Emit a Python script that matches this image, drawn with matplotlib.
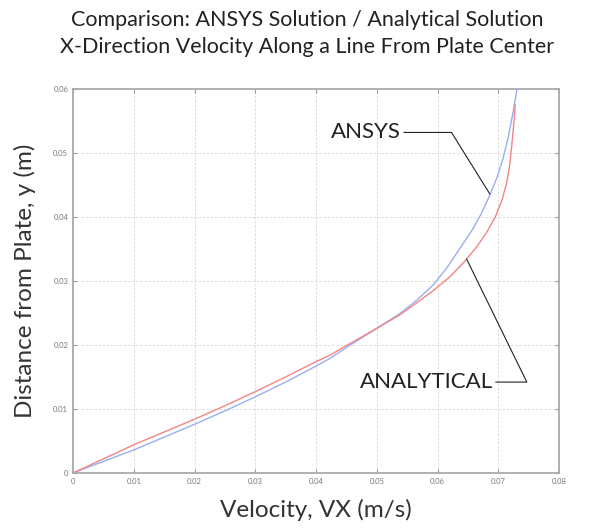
import numpy as np
import matplotlib
matplotlib.use('Agg')
import matplotlib.pyplot as plt

plt.rcParams['font.family'] = ['Lato', 'DejaVu Sans']

# ANSYS solution (blue)
ansys_vx = [0.0, 0.005, 0.010, 0.015, 0.020, 0.025, 0.030, 0.035, 0.040, 0.0423, 0.045,
            0.050, 0.0538, 0.0566, 0.0593, 0.0615, 0.0637, 0.0656, 0.0672, 0.0686,
            0.0698, 0.0708, 0.0716, 0.0724, 0.0731]
ansys_y = [0.0, 0.0018, 0.0036, 0.0056, 0.0076, 0.0097, 0.0119, 0.0142, 0.0167, 0.0179, 0.0196,
           0.0226, 0.0249, 0.0270, 0.0294, 0.0320, 0.0351, 0.0378, 0.0405, 0.0434,
           0.0462, 0.0492, 0.0523, 0.0562, 0.0601]

# Analytical solution (red)
anal_vx = [0.0, 0.005, 0.010, 0.015, 0.020, 0.025, 0.030, 0.035, 0.040, 0.0423, 0.045,
           0.050, 0.0538, 0.0566, 0.0593, 0.0621, 0.0645, 0.0665, 0.0681, 0.0695,
           0.0706, 0.0714, 0.0719, 0.0722, 0.0725, 0.0728]
anal_y = [0.0, 0.0022, 0.0044, 0.0064, 0.0084, 0.0105, 0.0127, 0.0150, 0.0174, 0.0184, 0.0199,
          0.0226, 0.0247, 0.0266, 0.0285, 0.0307, 0.0331, 0.0354, 0.0376, 0.0400,
          0.0426, 0.0454, 0.0482, 0.0510, 0.0540, 0.0575]

xticks = [0, 0.01, 0.02, 0.03, 0.04, 0.05, 0.06, 0.07, 0.08]
xlabels = ['0', '0.01', '0.02', '0.03', '0.04', '0.05', '0.06', '0.07', '0.08']
yticks = [0, 0.01, 0.02, 0.03, 0.04, 0.05, 0.06]
ylabels = ['0', '0.01', '0.02', '0.03', '0.04', '0.05', '0.06']

fig = plt.figure(figsize=(6.15, 5.29), dpi=100)
ax = fig.add_axes([0.1187, 0.1059, 0.7903, 0.726])

ax.plot(ansys_vx, ansys_y, color='#9aaef0', lw=1.0)
ax.plot(anal_vx, anal_y, color='#f58585', lw=1.0)

ax.set_xlim(0, 0.08)
ax.set_ylim(0, 0.06)
ax.set_xticks(xticks)
ax.set_xticklabels(xlabels)
ax.set_yticks(yticks)
ax.set_yticklabels(ylabels)
ax.tick_params(labelsize=5.5, labelcolor='#777777', color='#999999', direction='in',
               length=3, top=True, right=True)
ax.grid(True, color='#d8d8d8', linestyle=(0, (3, 2)), lw=0.6)
for s in ax.spines.values():
    s.set_color('#aaaaaa')
    s.set_linewidth(1.3)

ax.set_xlabel('Velocity, VX (m/s)', fontsize=17.5, color='#333333', labelpad=10)
ax.set_ylabel('Distance from Plate, y (m)', fontsize=17.5, color='#333333', labelpad=12)

fig.text(0.5, 0.962, 'Comparison: ANSYS Solution / Analytical Solution',
         ha='center', va='center', fontsize=15.5, color='#222222')
fig.text(0.5, 0.911, 'X-Direction Velocity Along a Line From Plate Center',
         ha='center', va='center', fontsize=15.5, color='#222222')

# callouts
ax.plot([0.0545, 0.0623, 0.0686], [0.0532, 0.0532, 0.0436], color='#222222', lw=0.8)
ax.text(0.0540, 0.0532, 'ANSYS', ha='right', va='center', fontsize=16, color='#222222')
ax.plot([0.0696, 0.0747, 0.0648], [0.0142, 0.0142, 0.0334], color='#222222', lw=0.8)
ax.text(0.0692, 0.0142, 'ANALYTICAL', ha='right', va='center', fontsize=16, color='#222222')

plt.savefig('out.png', dpi=100)
